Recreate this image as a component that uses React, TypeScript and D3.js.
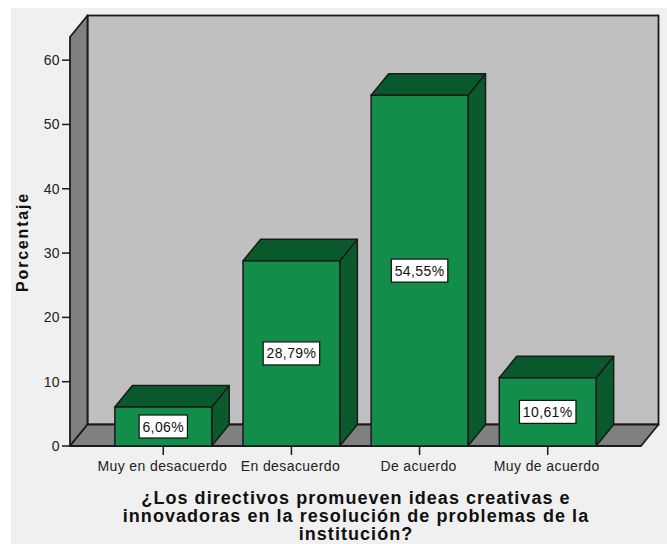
import React from "react";
import * as d3 from "d3";

const categories = ["Muy en desacuerdo", "En desacuerdo", "De acuerdo", "Muy de acuerdo"];
const values = [6.06, 28.79, 54.55, 10.61];
const valueLabels = ["6,06%", "28,79%", "54,55%", "10,61%"];
const yTicks = [0, 10, 20, 30, 40, 50, 60];
const titleLines = [
  "¿Los directivos promueven ideas creativas e",
  "innovadoras en la resolución de problemas de la",
  "institución?",
];
const yTitle = "Porcentaje";

const W = 667;
const H = 544;
const FONT = "'Liberation Sans', Arial, Helvetica, sans-serif";

function measure(text: string, font: string, spacing: number) {
  if (typeof document === "undefined") return text.length * 8;
  const c = document.createElement("canvas");
  const ctx = c.getContext("2d");
  if (!ctx) return text.length * 8;
  ctx.font = font;
  return ctx.measureText(text).width + spacing * (text.length - 1);
}

export default function App() {
  const x0 = 70;
  const x1 = 641;
  const dx = 17.5;
  const dy = 21.5;
  const y = d3.scaleLinear().domain([0, 63.6]).range([446, 37]);
  const x = d3
    .scaleBand<string>()
    .domain(categories)
    .range([x0, x1])
    .paddingInner(0.244)
    .paddingOuter(0.35);
  const yb = y(0);
  const yt = y(63.6);
  const stroke = "#1a1a1a";
  const labelFont = `14px ${FONT}`;

  return (
    <svg width={W} height={H} style={{ position: "absolute", left: 0, top: 0 }}>
      <rect x={0} y={0} width={W} height={H} fill="#ffffff" />
      <rect x={11} y={8} width={W - 11} height={H - 8} fill="#f0f0f0" />
      {/* back wall */}
      <rect x={x0 + dx} y={yt - dy} width={x1 - x0} height={yb - yt} fill="#c0c0c0" stroke={stroke} strokeWidth={1.8} />
      {/* left wall */}
      <polygon
        points={`${x0},${yt} ${x0 + dx},${yt - dy} ${x0 + dx},${yb - dy} ${x0},${yb}`}
        fill="#808080"
        stroke={stroke}
        strokeWidth={1.8}
        strokeLinejoin="round"
      />
      {/* floor */}
      <polygon
        points={`${x0},${yb} ${x0 + dx},${yb - dy} ${x1 + dx},${yb - dy} ${x1},${yb}`}
        fill="#808080"
        stroke={stroke}
        strokeWidth={1.8}
        strokeLinejoin="round"
      />
      {/* y ticks */}
      {yTicks.map((t) => (
        <g key={t}>
          <line x1={62} x2={x0} y1={y(t)} y2={y(t)} stroke={stroke} strokeWidth={1.5} />
          <text
            x={60}
            y={y(t)}
            dy="0.36em"
            textAnchor="end"
            fontFamily={FONT}
            fontSize={14}
            letterSpacing={0.4}
            fill="#222"
          >
            {t}
          </text>
        </g>
      ))}
      {/* bars */}
      {categories.map((c, i) => {
        const bx = x(c)!;
        const bw = x.bandwidth();
        const top = y(values[i]);
        const cx = bx + bw / 2;
        const cy = (top + yb) / 2;
        const tw = measure(valueLabels[i], labelFont, 0.4);
        const boxW = tw + 7;
        const boxH = 23;
        return (
          <g key={c}>
            <polygon
              points={`${bx + bw},${top} ${bx + bw + dx},${top - dy} ${bx + bw + dx},${yb - dy} ${bx + bw},${yb}`}
              fill="#0a5a2d"
              stroke={stroke}
              strokeWidth={1.5}
              strokeLinejoin="round"
            />
            <polygon
              points={`${bx},${top} ${bx + dx},${top - dy} ${bx + bw + dx},${top - dy} ${bx + bw},${top}`}
              fill="#0a592c"
              stroke={stroke}
              strokeWidth={1.5}
              strokeLinejoin="round"
            />
            <rect x={bx} y={top} width={bw} height={yb - top} fill="#138d4a" stroke={stroke} strokeWidth={1.5} />
            <rect x={cx - boxW / 2} y={cy - boxH / 2} width={boxW} height={boxH} fill="#ffffff" stroke="#111" strokeWidth={1.2} />
            <text
              x={cx}
              y={cy}
              dy="0.36em"
              textAnchor="middle"
              fontFamily={FONT}
              fontSize={14}
              letterSpacing={0.4}
              fill="#111"
            >
              {valueLabels[i]}
            </text>
            <line x1={cx} x2={cx} y1={yb} y2={yb + 9} stroke={stroke} strokeWidth={1.5} />
            <text
              x={cx - 1}
              y={471}
              textAnchor="middle"
              fontFamily={FONT}
              fontSize={14}
              letterSpacing={0.4}
              fill="#222"
            >
              {c}
            </text>
          </g>
        );
      })}
      {/* y axis title */}
      <text
        transform={`translate(28,242) rotate(-90)`}
        textAnchor="middle"
        fontFamily={FONT}
        fontSize={16}
        fontWeight="bold"
        letterSpacing={1.8}
        fill="#111"
      >
        {yTitle}
      </text>
      {/* x axis title */}
      {titleLines.map((l, i) => (
        <text
          key={i}
          x={356}
          y={503.5 + i * 18.2}
          textAnchor="middle"
          fontFamily={FONT}
          fontSize={18}
          fontWeight="bold"
          letterSpacing={1.05}
          fill="#111"
        >
          {l}
        </text>
      ))}
    </svg>
  );
}
